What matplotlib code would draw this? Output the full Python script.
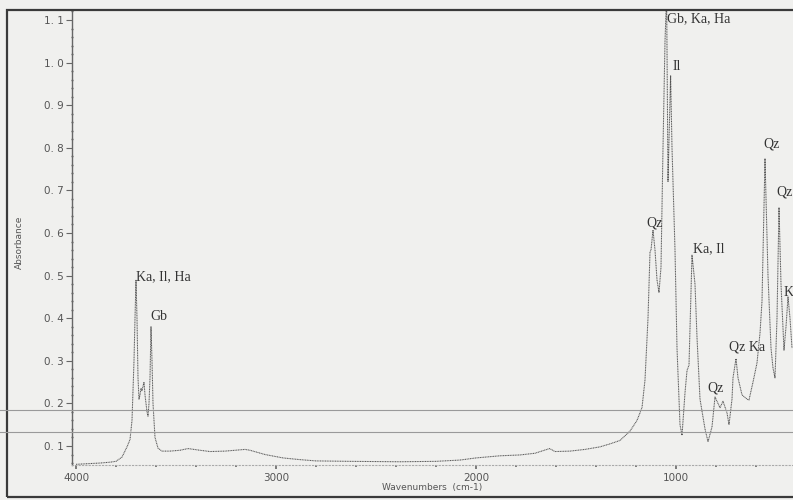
import numpy as np
import matplotlib.pyplot as plt
from matplotlib.lines import Line2D
from matplotlib.patches import Rectangle
from matplotlib.ticker import MultipleLocator, FuncFormatter

# spectrum (wavenumber cm-1, absorbance)
wavenumber = [
    4000, 3880, 3830, 3800, 3770, 3745, 3730, 3720, 3710, 3705,
    3700, 3695, 3690, 3685, 3680, 3675, 3670, 3660, 3655, 3645,
    3640, 3635, 3630, 3625, 3620, 3615, 3605, 3590, 3570, 3530,
    3480, 3440, 3380, 3330, 3255, 3205, 3155, 3130, 3055, 2965,
    2880, 2800, 2630, 2380, 2200, 2080, 2000, 1880, 1780, 1705,
    1632, 1605, 1530, 1455, 1380, 1330, 1280, 1230, 1195, 1170,
    1155, 1140, 1130, 1125, 1115, 1105, 1095, 1085, 1075, 1065,
    1055, 1047, 1040, 1027, 1020, 1005, 995, 980, 970, 955,
    945, 935, 920, 905, 895, 880, 855, 840, 820, 805,
    795, 780, 765, 745, 735, 720, 715, 700, 690, 670,
    645, 635, 615, 595, 580, 570, 555, 540, 525, 515,
    505, 495, 485, 475, 460, 450, 440, 430, 420,
]
absorbance = [
    0.057, 0.060, 0.062, 0.064, 0.074, 0.098, 0.115, 0.160, 0.300, 0.400,
    0.490, 0.400, 0.260, 0.210, 0.220, 0.235, 0.230, 0.250, 0.220, 0.180,
    0.170, 0.200, 0.260, 0.380, 0.300, 0.200, 0.120, 0.095, 0.088, 0.088,
    0.090, 0.094, 0.090, 0.087, 0.088, 0.090, 0.092, 0.090, 0.080, 0.072,
    0.068, 0.065, 0.064, 0.063, 0.064, 0.067, 0.072, 0.077, 0.079, 0.083,
    0.094, 0.087, 0.088, 0.092, 0.098, 0.105, 0.113, 0.135, 0.160, 0.190,
    0.255, 0.400, 0.555, 0.560, 0.607, 0.560, 0.490, 0.460, 0.520, 0.800,
    1.050, 1.160, 0.720, 0.970, 0.800, 0.560, 0.330, 0.150, 0.125, 0.225,
    0.277, 0.290, 0.548, 0.480, 0.355, 0.210, 0.140, 0.110, 0.145, 0.215,
    0.205, 0.190, 0.205, 0.178, 0.150, 0.210, 0.260, 0.305, 0.260, 0.220,
    0.210, 0.208, 0.250, 0.295, 0.365, 0.440, 0.775, 0.500, 0.330, 0.283,
    0.260, 0.400, 0.660, 0.480, 0.325, 0.380, 0.450, 0.400, 0.330,
]

# band assignments written on the print
band_labels = ["Ka, Il, Ha", "Gb", "Gb, Ka, Ha", "Il", "Qz", "Ka, Il",
               "Qz", "Qz Ka", "Qz", "Qz", "K"]
band_x = [3700, 3630, 1045, 1015, 1150, 915, 845, 735, 565, 500, 460]
band_y = [0.49, 0.396, 1.095, 0.983, 0.616, 0.555, 0.229, 0.325, 0.80, 0.687, 0.452]

paper = "#f0f0ee"
ink = "#555555"

fig = plt.figure(figsize=(7.93, 5.0), dpi=100, facecolor=paper)
ax = fig.add_axes([72 / 793, 35 / 500, 1 - 72 / 793, 455 / 500])
ax.set_facecolor(paper)

ax.plot(wavenumber, absorbance, color="#555555", lw=0.75, ls=(0, (1, 0.6)))

ax.set_xlim(4020, 415)
ax.set_ylim(0.0554, 1.1235)

ax.xaxis.set_major_locator(MultipleLocator(1000))
ax.xaxis.set_minor_locator(MultipleLocator(200))
ax.yaxis.set_major_locator(MultipleLocator(0.1))
ax.yaxis.set_minor_locator(MultipleLocator(0.02))
ax.yaxis.set_major_formatter(FuncFormatter(lambda v, p: ("%.1f" % v).replace(".", ". ")))
ax.xaxis.set_major_formatter(FuncFormatter(lambda v, p: "%d" % v))

for s in ["top", "right"]:
    ax.spines[s].set_visible(False)
ax.spines["left"].set_linestyle((0, (1, 1)))
ax.spines["left"].set_color("#666666")
ax.spines["left"].set_linewidth(1.0)
ax.spines["bottom"].set_linestyle((0, (1, 2)))
ax.spines["bottom"].set_color("#aaaaaa")
ax.spines["bottom"].set_linewidth(0.8)

ax.tick_params(axis="y", which="major", direction="out", length=4, width=0.8,
               color="#666666", labelsize=7.5, labelcolor=ink, pad=2)
ax.tick_params(axis="y", which="minor", direction="inout", length=2, width=1.0,
               color="#666666")
ax.tick_params(axis="x", which="major", direction="out", length=3, width=1.2,
               color="#666666", labelsize=7.5, labelcolor=ink, pad=3)
ax.tick_params(axis="x", which="minor", direction="out", length=1.5, width=1.2,
               color="#666666")

ax.set_xlabel("Wavenumbers  (cm-1)", fontsize=6.5, color=ink, labelpad=0)
ax.set_ylabel("Absorbance", fontsize=6.5, color=ink)
ax.yaxis.set_label_coords(-0.066, 0.49)

for lab, x, y in zip(band_labels, band_x, band_y):
    ax.text(x, y, lab, ha="left", va="baseline", fontsize=10,
            family="Liberation Serif", color="#333333", clip_on=False)

# page border and the two scanner lines across the sheet
fig.add_artist(Rectangle((7 / 793, 3 / 500), 1.2, 487 / 500, transform=fig.transFigure,
                         fill=False, edgecolor="#3a3a3a", lw=1.6))
for yy in [410, 432]:
    fig.add_artist(Line2D([0, 1], [1 - yy / 500] * 2, transform=fig.transFigure,
                          color="#9a9a9a", lw=0.8))

fig.savefig("out.png", dpi=100, facecolor=paper)
